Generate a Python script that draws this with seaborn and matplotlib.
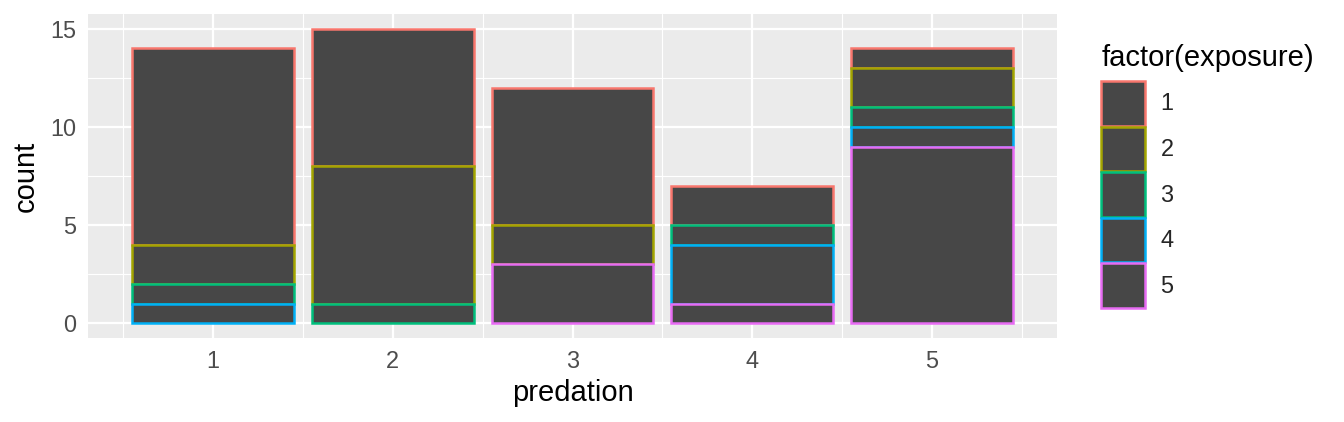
import numpy as np
import pandas as pd
import matplotlib
matplotlib.use("Agg")
import matplotlib.pyplot as plt
import seaborn as sns
from matplotlib.patches import Patch
from matplotlib.colors import to_hex

# ---- data ----
predation = [1, 2, 3, 4, 5]
exposure_levels = ["1", "2", "3", "4", "5"]
count_exp1 = [10, 7, 7, 2, 1]
count_exp2 = [2, 7, 2, 0, 2]
count_exp3 = [1, 1, 0, 1, 1]
count_exp4 = [1, 0, 0, 3, 1]
count_exp5 = [0, 0, 3, 1, 9]
palette = ["#F8766D", "#A3A500", "#00BF7D", "#00B0F6", "#E76BF3"]
y_ticks = [0, 5, 10, 15]

counts = [count_exp1, count_exp2, count_exp3, count_exp4, count_exp5]
rows = []
for lev, cs in zip(exposure_levels, counts):
    for p, c in zip(predation, cs):
        rows.append({"predation": p, "exposure": lev, "count": c})
df = pd.DataFrame(rows)

sns.set_theme(style="darkgrid")
plt.rcParams["font.family"] = ["Liberation Sans", "DejaVu Sans"]

FILL = "#474747"
EDGE_LW = 1.8
fig = plt.figure(figsize=(13.44, 4.22), dpi=100)
ax = fig.add_axes([88/1344, 1-338/422, (1057-88)/1344, (338-14)/422])
ax.set_facecolor("#EBEBEB")

sns.histplot(data=df, x="predation", hue="exposure", weights="count",
             hue_order=exposure_levels, palette=palette,
             multiple="stack", discrete=True, shrink=0.9,
             legend=False, ax=ax)

for patch in list(ax.patches):
    if patch.get_height() <= 0:
        patch.remove()
        continue
    col = patch.get_facecolor()
    patch.set_edgecolor(to_hex(col[:3]))
    patch.set_facecolor(FILL)
    patch.set_alpha(None)
    patch.set_linewidth(EDGE_LW)
    patch.set_zorder(5 - patch.get_y() * 0.01)

ax.set_xlim(0.305, 5.695)
ax.set_ylim(-0.75, 15.75)
ax.set_xticks(predation)
ax.set_xticklabels([str(p) for p in predation])
ax.set_yticks(y_ticks)
ax.set_yticklabels([str(t) for t in y_ticks])
ax.set_xticks([0.5, 1.5, 2.5, 3.5, 4.5, 5.5], minor=True)
ax.set_yticks([2.5, 7.5, 12.5], minor=True)

ax.grid(True, which="major", color="white", linewidth=1.6)
ax.grid(True, which="minor", color="white", linewidth=0.8)
ax.set_axisbelow(True)
for s in ax.spines.values():
    s.set_visible(False)

ax.tick_params(axis="both", which="major", length=5.3, width=1.4,
               color="#333333", labelcolor="#4D4D4D", labelsize=16.9, pad=3)
ax.tick_params(axis="both", which="minor", length=0)

ax.set_xlabel("predation", fontsize=21, color="black", labelpad=5)
ax.set_ylabel("count", fontsize=21, color="black", labelpad=8)

fig.text(1102/1344, 1-44/422, "factor(exposure)", fontsize=21, color="black",
         ha="left", va="top")
handles = [Patch(facecolor=FILL, edgecolor=c, linewidth=EDGE_LW) for c in palette]
leg = fig.legend(handles, exposure_levels,
                 loc="upper left", bbox_to_anchor=(1101/1344, 1-81/422),
                 frameon=False, fontsize=16.9,
                 handlelength=1.88, handleheight=2.55, labelspacing=0.04,
                 handletextpad=0.65, borderpad=0, borderaxespad=0)

fig.savefig("out.png", dpi=100)
